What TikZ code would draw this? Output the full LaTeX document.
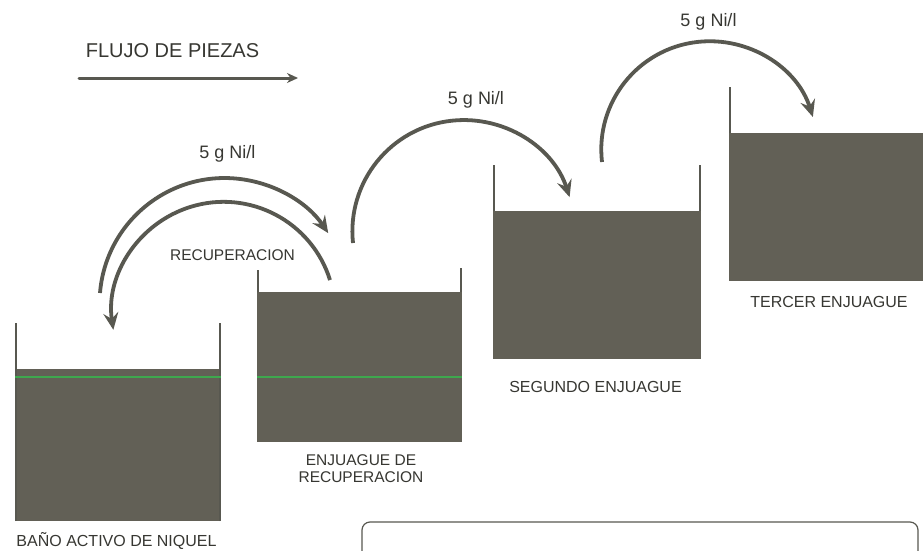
\documentclass[tikz,border=0pt]{standalone}
\usepackage{fontspec}
\setmainfont{Liberation Sans}
\usetikzlibrary{arrows.meta}
\definecolor{liq}{RGB}{98,96,86}
\definecolor{ink}{RGB}{88,88,80}
\definecolor{txt}{RGB}{55,55,50}
\definecolor{grn}{RGB}{62,168,78}
\tikzset{
  liquid/.style={fill=liq,draw=none,inner sep=0pt,outer sep=0pt},
  wall/.style={draw=ink,line width=2.2pt},
  flow/.style={draw=ink,line width=3.8pt,-{Stealth[length=17pt,width=15pt,inset=6pt]}},
  lbl/.style={text=txt,font=\fontsize{16}{18}\selectfont,inner sep=0pt,align=center},
  conc/.style={text=txt,font=\fontsize{18}{20}\selectfont,inner sep=0pt},
  level/.style={draw=grn,line width=2pt}
}
\begin{document}
\begin{tikzpicture}[x=1pt,y=-1pt]
\useasboundingbox (0,0) rectangle (923,551);
\fill[white] (0,0) rectangle (923,551);
\begin{scope}
\clip (0,0) rectangle (923,551);
% tanks (liquid)
\node[liquid,minimum width=206pt,minimum height=152pt] (t1) at (118,445) {};
\node[liquid,minimum width=205pt,minimum height=150pt] (t2) at (359.5,367) {};
\node[liquid,minimum width=208pt,minimum height=148pt] (t3) at (597,285) {};
\node[liquid,minimum width=206pt,minimum height=148pt] (t4) at (832,207) {};
% walls
\draw[wall] ([xshift=1pt]t1.south west) -- ([xshift=1pt]t1.north west) -- ++(0,-46);
\draw[wall] ([xshift=-1pt]t1.south east) -- ([xshift=-1pt]t1.north east) -- ++(0,-46);
\draw[wall] ([xshift=1pt]t2.north west) -- ++(0,-22);
\draw[wall] ([xshift=-1pt]t2.north east) -- ++(0,-24);
\draw[wall] ([xshift=1pt]t3.north west) -- ++(0,-46);
\draw[wall] ([xshift=-1pt]t3.north east) -- ++(0,-46);
\draw[wall] ([xshift=1pt]t4.north west) -- ++(0,-46);
% green level lines
\draw[level] (15,377) -- (221,377);
\draw[level] (257,377) -- (462,377);
% bottom rounded box
\node[draw=ink,line width=1.2pt,rounded corners=8pt,minimum width=556pt,minimum height=80pt,inner sep=0pt] (box) at (640,562) {};
\end{scope}
% flow of parts
\node[text=txt,font=\fontsize{20}{22}\selectfont,inner sep=0pt] (flujo) at (172.5,51) {FLUJO DE PIEZAS};
\coordinate (fa) at (79,78);
\coordinate (fb) at (298,78);
\draw[draw=ink,line width=3pt,line cap=round,-{Stealth[length=11pt,width=10pt]}] (fa) -- (fb);
% connectors
\coordinate (s1) at (100,293);
\draw[flow] (s1) arc[start angle=175.4,end angle=34,radius=125pt];
\coordinate (s2) at (330,280);
\draw[flow] (s2) arc[start angle=17.4,end angle=188.5,radius=111.5pt];
\coordinate (s3) at (353,243);
\draw[flow] (s3) arc[start angle=186,end angle=17.9,radius=111.3pt];
\coordinate (s4) at (602,162);
\draw[flow] (s4) arc[start angle=186.6,end angle=17.5,radius=108.3pt];
% labels
\node[conc] (c1) at (227.5,154) {5 g Ni/l};
\node[conc] (c2) at (476,100) {5 g Ni/l};
\node[conc] (c3) at (708.5,22) {5 g Ni/l};
\node[lbl,font=\fontsize{15.5}{17}\selectfont] (rec) at (232.5,255) {RECUPERACION};
\node[lbl] (l1) at (116.5,541) {BAÑO ACTIVO DE NIQUEL};
\node[lbl,font=\fontsize{15.5}{17}\selectfont] (l2) at (361,468.5) {ENJUAGUE DE\\RECUPERACION};
\node[lbl] (l3) at (595.5,387) {SEGUNDO ENJUAGUE};
\node[lbl] (l4) at (829,302) {TERCER ENJUAGUE};
\end{tikzpicture}
\end{document}
